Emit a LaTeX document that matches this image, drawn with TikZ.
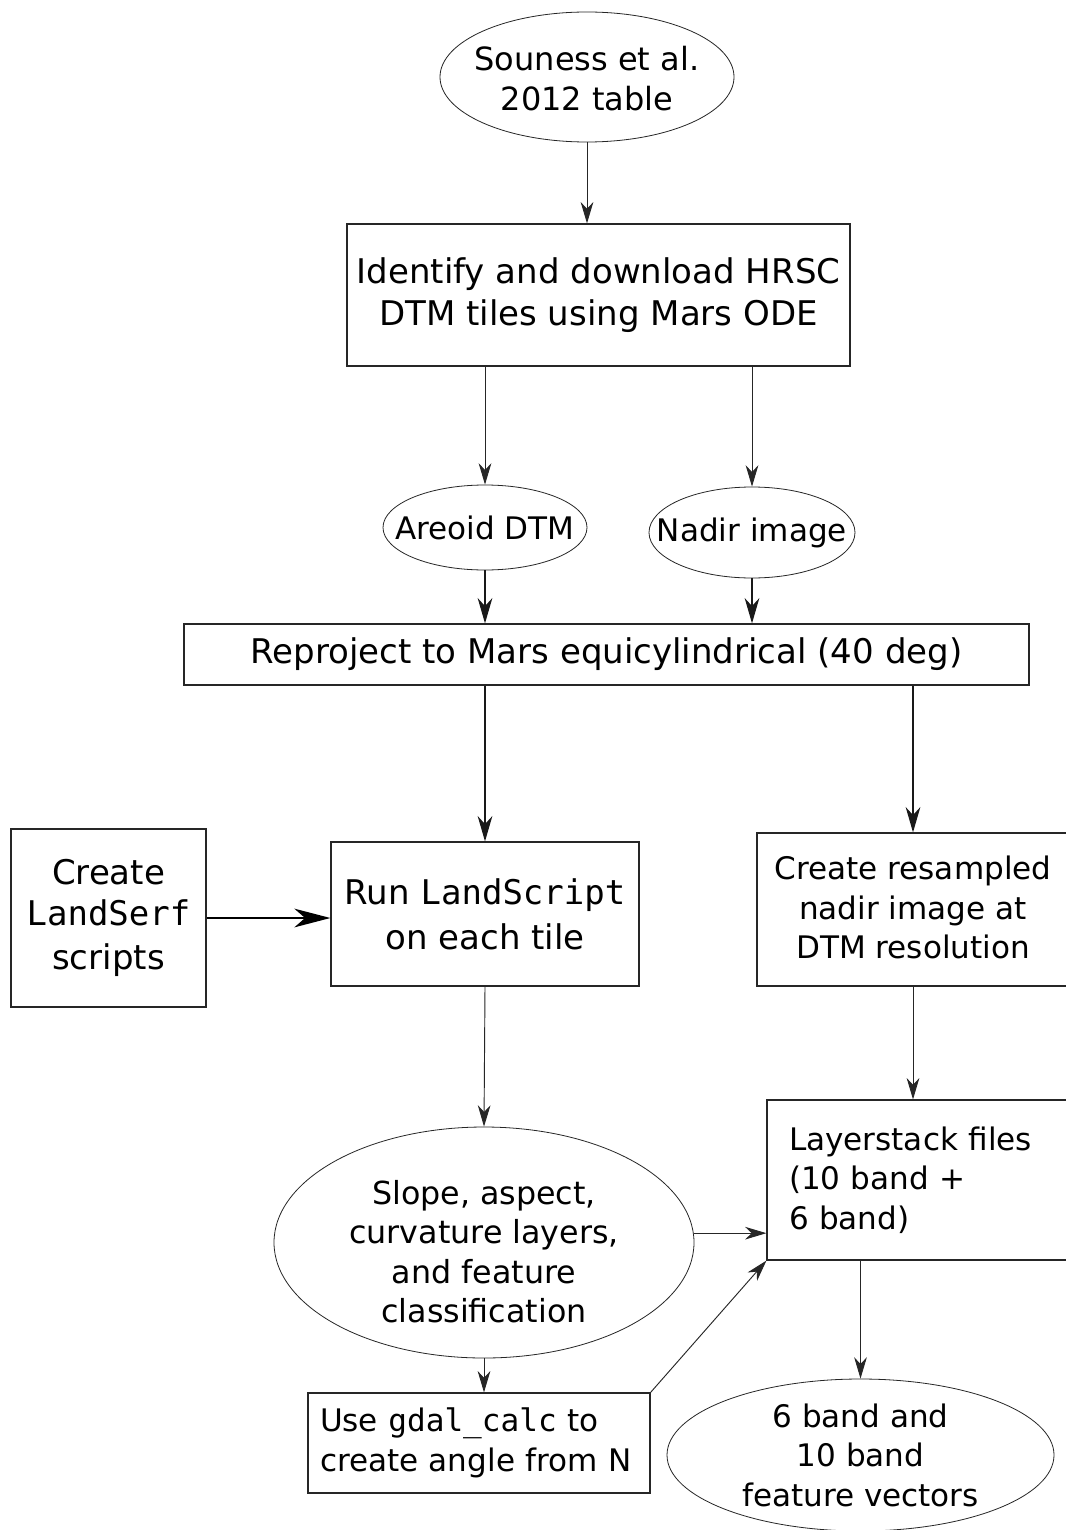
\documentclass[tikz,border=0pt]{standalone}
\usepackage{fontspec}
\setmainfont{DejaVu Sans}
\setmonofont{DejaVu Sans Mono}
\usetikzlibrary{arrows.meta,shapes.geometric}
\tikzset{
  box/.style={draw=black!85, line width=0.9pt, rectangle, inner sep=1pt, align=center},
  oval/.style={draw=black!85, line width=0.6pt, ellipse, inner sep=0pt},
  lab/.style={align=center, inner sep=0pt},
  flow/.style={line width=0.7pt, draw=black!85, -{Stealth[length=16pt, width=9.5pt, inset=5pt]}},
  flowbig/.style={line width=1pt, draw=black!90, -{Stealth[length=19pt, width=11pt, inset=6pt]}},
  flowthick/.style={line width=1.4pt, draw=black, -{Stealth[length=27pt, width=14pt, inset=8pt]}},
  fA/.style={font=\fontsize{25.5pt}{31.5pt}\selectfont},
  fB/.style={font=\fontsize{23.3pt}{29.6pt}\selectfont},
  fC/.style={font=\fontsize{24pt}{30pt}\selectfont},
  fD/.style={font=\fontsize{23.8pt}{29.5pt}\selectfont},
}
\begin{document}
\begin{tikzpicture}[x=0.75pt,y=-0.75pt]
\clip (0,0) rectangle (1066,1530);
\fill[white] (0,0) rectangle (1066,1530);

% nodes
\node[oval, minimum width=220.5pt, minimum height=97.5pt,
      label={[lab,fC,yshift=-1pt]center:Souness et al.\\2012 table}] (souness) at (587,77) {};
\node[box, fA, minimum width=377.25pt, minimum height=106.5pt] (identify) at (598.5,295)
      {Identify and download HRSC\\DTM tiles using Mars ODE};
\node[oval, minimum width=153pt, minimum height=63.75pt,
      label={[lab,fB]center:Areoid DTM}] (areoid) at (485,527.5) {};
\node[oval, minimum width=154.5pt, minimum height=68.25pt,
      label={[lab,fB]center:Nadir image}] (nadir) at (752,532.5) {};
\node[box, fA, minimum width=633.75pt, minimum height=45.75pt] (reproject) at (606.5,654.5)
      {Reproject to Mars equicylindrical (40 deg)};
\node[box, font=\fontsize{25.5pt}{31pt}\selectfont, minimum width=146.25pt, minimum height=133.5pt] (landserf) at (108.5,918)
      {Create\\\texttt{LandSerf}\\\raisebox{-2pt}{scripts}};
\node[box, font=\fontsize{25.5pt}{34pt}\selectfont, minimum width=231pt, minimum height=108pt] (run) at (485,914)
      {Run \texttt{LandScript}\\on each tile};
\node[box, fB, minimum width=234pt, minimum height=114.75pt] (resampled) at (913,909.5)
      {\raisebox{3pt}{Create resampled}\\\raisebox{3pt}{nadir image at}\\\raisebox{3pt}{DTM resolution}};
\node[box, fB, align=left, inner xsep=16.5pt, inner ysep=0pt, text width=193.5pt,
      minimum height=120pt] (layerstack) at (918,1180)
      {Layerstack files\\(10 band +\\6 band)};
\node[oval, minimum width=315pt, minimum height=173.25pt,
      label={[lab,fD,yshift=-6.75pt]center:Slope, aspect,\\curvature layers,\\and feature\\classification}] (slope) at (484,1242.5) {};
\node[box, fB, align=left, inner xsep=9pt, inner ysep=0pt, text width=238.5pt,
      minimum height=75pt] (gdal) at (479,1443)
      {Use \texttt{gdal\_calc} to\\create angle from N};
\node[oval, minimum width=290.25pt, minimum height=114pt,
      label={[lab,fB]center:6 band and\\10 band\\feature vectors}] (feature) at (860.5,1455) {};

% connectors
\draw[flow] (souness.south) -- (souness.south |- identify.north);
\draw[flow] (identify.south -| areoid.north) -- (areoid.north);
\draw[flow] (identify.south -| nadir.north) -- (nadir.north);
\draw[flowbig] (areoid.south) -- (areoid.south |- reproject.north);
\draw[flowbig] (nadir.south) -- (nadir.south |- reproject.north);
\draw[flowbig] (reproject.south -| run.north) -- (run.north);
\draw[flowbig] (reproject.south -| resampled.north) -- (resampled.north);
\draw[flowthick] (landserf.east) -- (landserf.east -| run.west);
\draw[flow] (run.south) -- (slope.north);
\draw[flow] (resampled.south) -- (resampled.south |- layerstack.north);
\draw[flow] ([yshift=7pt]slope.east) -- ([yshift=7pt]slope.east -| layerstack.west);
\draw[flow] (slope.south) -- (slope.south |- gdal.north);
\draw[flow] (gdal.north east) -- (layerstack.south west);
\draw[flow] (feature.north |- layerstack.south) -- (feature.north);
\end{tikzpicture}
\end{document}
